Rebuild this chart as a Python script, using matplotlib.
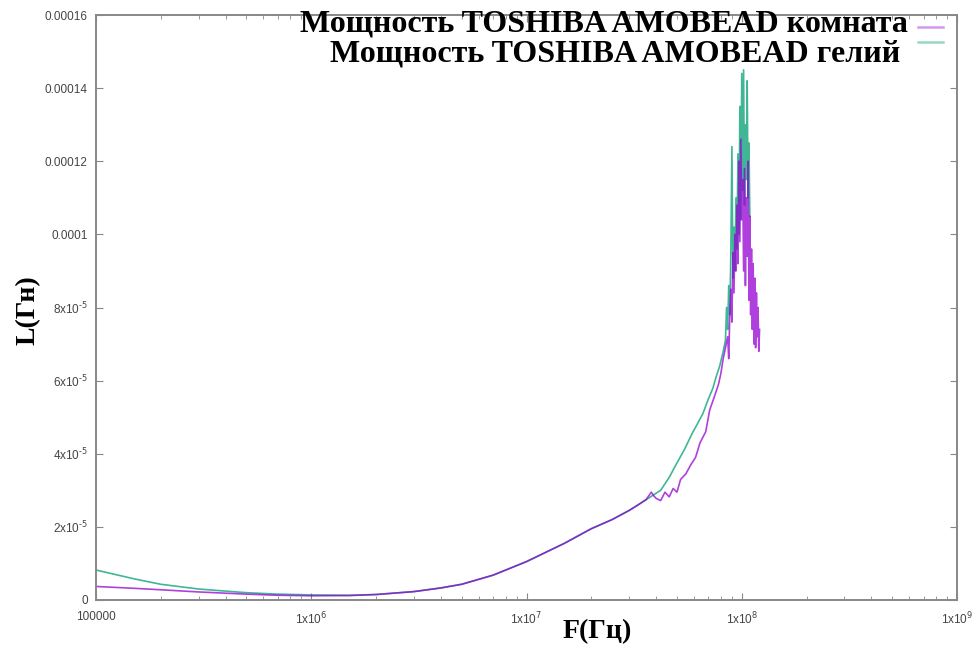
import matplotlib
matplotlib.use("Agg")
import matplotlib.pyplot as plt
from matplotlib.lines import Line2D
from matplotlib.ticker import FixedLocator, LogLocator, NullFormatter

# комната (room temperature), frequency in Hz, inductance in H
f_room = [1e5, 1.5e5, 2e5, 3e5, 5e5, 7e5, 1e6, 1.5e6, 2e6, 3e6, 4e6, 5e6, 7e6,
          1e7, 1.5e7, 2e7, 2.5e7, 3e7, 3.3e7, 3.6e7, 3.8e7, 3.9e7, 4.0e7, 4.2e7,
          4.4e7, 4.6e7, 4.8e7, 5.0e7, 5.2e7, 5.5e7, 5.8e7, 6.1e7, 6.4e7, 6.8e7,
          7.1e7, 7.4e7, 7.8e7, 8.0e7, 8.2e7, 8.4e7, 8.6e7, 8.7e7, 8.8e7, 8.9e7,
          9.0e7, 9.1e7, 9.2e7, 9.3e7, 9.4e7, 9.5e7, 9.6e7, 9.7e7, 9.8e7, 9.9e7,
          1.00e8, 1.01e8, 1.02e8, 1.03e8, 1.04e8, 1.05e8, 1.06e8, 1.07e8,
          1.08e8, 1.09e8, 1.10e8, 1.11e8, 1.12e8, 1.13e8, 1.14e8, 1.15e8,
          1.16e8, 1.17e8, 1.18e8, 1.19e8, 1.20e8, 1.21e8]
L_room = [3.7e-6, 3.2e-6, 2.8e-6, 2.2e-6, 1.6e-6, 1.3e-6, 1.15e-6, 1.2e-6,
          1.5e-6, 2.3e-6, 3.3e-6, 4.3e-6, 6.8e-6, 1.05e-5, 1.55e-5, 1.95e-5,
          2.2e-5, 2.45e-5, 2.6e-5, 2.75e-5, 2.95e-5, 2.85e-5, 2.78e-5, 2.72e-5,
          2.95e-5, 2.82e-5, 3.05e-5, 2.95e-5, 3.3e-5, 3.45e-5, 3.7e-5, 3.9e-5,
          4.3e-5, 4.6e-5, 5.2e-5, 5.5e-5, 5.9e-5, 6.2e-5, 6.6e-5, 6.9e-5,
          7.2e-5, 6.6e-5, 7.8e-5, 8.5e-5, 7.6e-5, 9.5e-5, 8.4e-5, 1.0e-4,
          9.0e-5, 1.08e-4, 9.2e-5, 1.2e-4, 9.8e-5, 1.26e-4, 1.04e-4, 1.15e-4,
          9.0e-5, 1.18e-4, 8.6e-5, 1.10e-4, 9.4e-5, 1.2e-4, 8.2e-5, 1.05e-4,
          7.8e-5, 9.6e-5, 7.4e-5, 9.2e-5, 7.0e-5, 8.8e-5, 6.9e-5, 8.4e-5,
          7.2e-5, 8.0e-5, 6.8e-5, 7.4e-5]

# гелий (helium)
f_he = [1e5, 1.5e5, 2e5, 3e5, 5e5, 7e5, 1e6, 1.5e6, 2e6, 3e6, 4e6, 5e6, 7e6,
        1e7, 1.5e7, 2e7, 2.5e7, 3e7, 3.5e7, 4.2e7, 4.6e7, 5.0e7, 5.4e7, 5.9e7,
        6.2e7, 6.6e7, 7.0e7, 7.35e7, 7.6e7, 7.9e7, 8.2e7, 8.4e7, 8.5e7, 8.6e7,
        8.7e7, 8.8e7, 8.9e7, 9.0e7, 9.1e7, 9.2e7, 9.3e7, 9.4e7, 9.5e7, 9.6e7,
        9.7e7, 9.8e7, 9.9e7, 1.00e8, 1.01e8, 1.02e8, 1.03e8, 1.04e8, 1.05e8,
        1.06e8, 1.07e8, 1.08e8, 1.09e8]
L_he = [8.2e-6, 5.8e-6, 4.3e-6, 3.0e-6, 2.0e-6, 1.6e-6, 1.4e-6, 1.3e-6,
        1.5e-6, 2.3e-6, 3.3e-6, 4.3e-6, 6.8e-6, 1.05e-5, 1.55e-5, 1.95e-5,
        2.2e-5, 2.45e-5, 2.7e-5, 3.0e-5, 3.35e-5, 3.75e-5, 4.1e-5, 4.57e-5,
        4.8e-5, 5.1e-5, 5.5e-5, 5.8e-5, 6.1e-5, 6.4e-5, 6.8e-5, 7.1e-5, 8.0e-5,
        7.4e-5, 8.6e-5, 7.8e-5, 9.5e-5, 1.24e-4, 8.8e-5, 1.02e-4, 9.0e-5,
        1.10e-4, 9.6e-5, 1.22e-4, 1.0e-4, 1.35e-4, 1.04e-4, 1.44e-4, 1.12e-4,
        1.45e-4, 1.08e-4, 1.30e-4, 1.15e-4, 1.42e-4, 1.10e-4, 1.25e-4, 1.05e-4]

y_ticks = [0, 2e-5, 4e-5, 6e-5, 8e-5, 1e-4, 1.2e-4, 1.4e-4, 1.6e-4]
y_labels = ["0", "2x10$^{\\text{-}5}$", "4x10$^{\\text{-}5}$", "6x10$^{\\text{-}5}$",
            "8x10$^{\\text{-}5}$", "0.0001", "0.00012", "0.00014", "0.00016"]
x_ticks = [1e5, 1e6, 1e7, 1e8, 1e9]
x_labels = ["100000", "1x10$^{6}$", "1x10$^{7}$", "1x10$^{8}$", "1x10$^{9}$"]

c_room = "#9400d3"
c_he = "#009e73"

W, H = 975, 646
fig = plt.figure(figsize=(W / 100, H / 100), dpi=100)
ax = fig.add_axes([96 / W, (H - 600) / H, (957 - 96) / W, (600 - 15) / H])

ax.plot(f_he, L_he, color=c_he, lw=1.2, alpha=0.75)
ax.plot(f_room, L_room, color=c_room, lw=1.2, alpha=0.75)

ax.set_xscale("log")
ax.set_xlim(1e5, 1e9)
ax.set_ylim(0, 1.6e-4)

ax.xaxis.set_major_locator(FixedLocator(x_ticks))
ax.xaxis.set_minor_locator(LogLocator(base=10, subs=range(2, 10)))
ax.xaxis.set_minor_formatter(NullFormatter())
ax.set_xticklabels(x_labels)
ax.set_yticks(y_ticks)
ax.set_yticklabels(y_labels)

for s in ax.spines.values():
    s.set_color("#888888")
    s.set_linewidth(1.4)
ax.tick_params(which="both", direction="in", top=True, right=True,
               colors="#888888", labelcolor="#444444", labelsize=8.5)
ax.tick_params(which="major", length=5)
ax.tick_params(which="minor", length=3)
ax.tick_params(axis="x", pad=8)
ax.tick_params(axis="y", pad=6)
for t in ax.get_xticklabels() + ax.get_yticklabels():
    t.set_fontfamily("Liberation Sans")

fig.text(28 / W, 1 - 310 / H, "L(Гн)", rotation=90, ha="center", va="center",
         fontsize=20, fontweight="bold", family="Liberation Serif")
fig.text(597 / W, 1 - 632 / H, "F(Гц)", ha="center", va="center",
         fontsize=20, fontweight="bold", family="Liberation Serif")

# legend drawn by hand, gnuplot style
fig.text(908 / W, 1 - 24 / H, "Мощность TOSHIBA AMOBEAD комната", ha="right",
         va="center", fontsize=23, fontweight="bold", family="Liberation Serif")
fig.text(900 / W, 1 - 54 / H, "Мощность TOSHIBA AMOBEAD гелий", ha="right",
         va="center", fontsize=23, fontweight="bold", family="Liberation Serif")
fig.add_artist(Line2D([918 / W, 943 / W], [1 - 27 / H, 1 - 27 / H],
                      color=c_room, alpha=0.4, lw=1.8))
fig.add_artist(Line2D([918 / W, 943 / W], [1 - 42 / H, 1 - 42 / H],
                      color=c_he, alpha=0.4, lw=1.8))

fig.savefig("out.png", dpi=100)
